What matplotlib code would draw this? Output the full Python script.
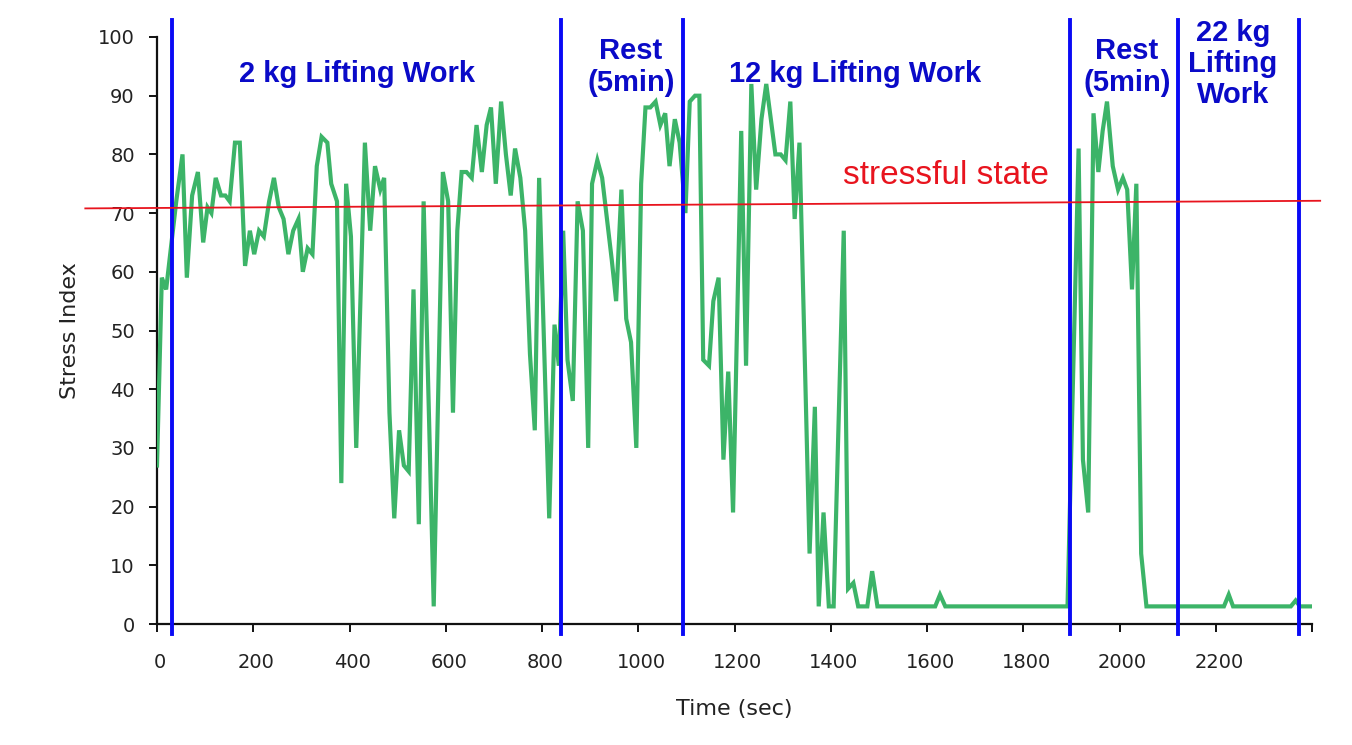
import matplotlib
matplotlib.use("Agg")
import matplotlib.pyplot as plt
from matplotlib.transforms import ScaledTranslation

# ---- data ----
time_sec = [0, 10, 19, 40, 53, 62, 73, 85, 96, 105, 113, 122, 133, 142, 151, 162, 172, 183, 193, 202,
            212, 222, 233, 243, 253, 263, 273, 283, 294, 303, 313, 323, 332, 342, 354, 362, 374, 383,
            393, 403, 414, 432, 443, 453, 464, 472, 483, 493, 503, 513, 523, 533, 544, 554, 575, 594,
            605, 615, 624, 633, 643, 654, 664, 675, 685, 694, 704, 715, 725, 735, 744, 755, 765, 775,
            785, 794, 815, 826, 835, 844, 853, 864, 874, 885, 896, 904, 915, 925, 935, 945, 954, 965,
            975, 985, 996, 1006, 1015, 1025, 1036, 1046, 1056, 1065, 1076, 1086, 1098, 1107, 1118,
            1127, 1135, 1147, 1156, 1167, 1177, 1187, 1197, 1214, 1224, 1235, 1245, 1256, 1266, 1285,
            1296, 1306, 1316, 1325, 1335, 1356, 1367, 1375, 1385, 1396, 1406, 1427, 1436, 1447, 1457,
            1476, 1486, 1497, 1617, 1627, 1638, 1892, 1915, 1924, 1935, 1946, 1956, 1965, 1974, 1986,
            1997, 2007, 2016, 2026, 2035, 2045, 2056, 2217, 2227, 2236, 2356, 2366, 2375, 2399]
stress_index = [27, 59, 57, 72, 80, 59, 73, 77, 65, 71, 70, 76, 73, 73, 72, 82, 82, 61, 67, 63,
                67, 66, 72, 76, 71, 69, 63, 67, 69, 60, 64, 63, 78, 83, 82, 75, 72, 24,
                75, 66, 30, 82, 67, 78, 74, 76, 36, 18, 33, 27, 26, 57, 17, 72, 3, 77,
                72, 36, 67, 77, 77, 76, 85, 77, 85, 88, 75, 89, 80, 73, 81, 76, 67, 46,
                33, 76, 18, 51, 44, 67, 45, 38, 72, 67, 30, 75, 79, 76, 69, 62, 55, 74,
                52, 48, 30, 75, 88, 88, 89, 85, 87, 78, 86, 82, 70, 89, 90,
                90, 45, 44, 55, 59, 28, 43, 19, 84, 44, 92, 74, 86, 92, 80,
                80, 79, 89, 69, 82, 12, 37, 3, 19, 3, 3, 67, 6, 7, 3,
                3, 9, 3, 3, 5, 3, 3, 81, 28, 19, 87, 77, 84, 89, 78,
                74, 76, 74, 57, 75, 12, 3, 3, 5, 3, 3, 4, 3, 3]

phase_bounds = [31, 840, 1093, 1898, 2122, 2373]
threshold_t = [-149, 2417]
threshold_v = [70.8, 72.1]

x_ticks = [0, 200, 400, 600, 800, 1000, 1200, 1400, 1600, 1800, 2000, 2200, 2400]
x_ticklabels = ["0", "200", "400", "600", "800", "1000", "1200", "1400", "1600", "1800", "2000", "2200", ""]
y_ticks = [0, 10, 20, 30, 40, 50, 60, 70, 80, 90, 100]

phase_labels = ["2 kg Lifting Work", "Rest\n(5min)", "12 kg Lifting Work", "Rest\n(5min)", "22 kg\nLifting\nWork"]

# ---- figure ----
W, H = 1352, 745
fig = plt.figure(figsize=(W / 100, H / 100), dpi=100)
ax = fig.add_axes([157 / W, 1 - 624 / H, (1312 - 157) / W, (624 - 37) / H])

ax.set_xlim(0, 2400)
ax.set_ylim(0, 100)

ax.plot(time_sec, stress_index, color="#3cb468", lw=3.0, solid_joinstyle="miter", zorder=3)

for b in phase_bounds:
    ax.plot([b, b], [-1.7, 102.9], color="#0a0af5", lw=2.8, clip_on=False, zorder=4)

ax.plot(threshold_t, threshold_v, color="#e8141e", lw=1.3, clip_on=False, zorder=5)

for s in ["top", "right"]:
    ax.spines[s].set_visible(False)
for s in ["left", "bottom"]:
    ax.spines[s].set_linewidth(1.6)
    ax.spines[s].set_color("#111111")

ax.set_xticks(x_ticks)
ax.set_xticklabels(x_ticklabels)
ax.set_yticks(y_ticks)
ax.tick_params(axis="both", direction="out", length=6, width=1.4, color="#111111",
               labelsize=14, labelcolor="#222222")
ax.tick_params(axis="x", pad=15)
ax.tick_params(axis="y", pad=10)
shift = ScaledTranslation(3 / 100, 0, fig.dpi_scale_trans)
for lbl in ax.get_xticklabels():
    lbl.set_transform(lbl.get_transform() + shift)

ax.set_xlabel("Time (sec)", fontsize=16, color="#222222", labelpad=19)
ax.set_ylabel("Stress Index", fontsize=16, color="#222222", labelpad=13)

blue_kw = dict(color="#0a0ac8", fontsize=21, fontweight="bold", family="Liberation Sans",
               ha="center", va="center", multialignment="center", linespacing=1.15)


def fx(px):
    return px / W


def fy(py):
    return 1 - py / H


fig.text(fx(357), fy(74), phase_labels[0], **blue_kw)
fig.text(fx(631), fy(67), phase_labels[1], **blue_kw)
fig.text(fx(855), fy(74), phase_labels[2], **blue_kw)
fig.text(fx(1127), fy(67), phase_labels[3], **blue_kw)
fig.text(fx(1233), fy(64), phase_labels[4], **blue_kw)

fig.text(fx(946), fy(176), "stressful state", color="#e8141e", fontsize=24,
         family="Liberation Sans", ha="center", va="center")

fig.savefig("out.png", dpi=100)
